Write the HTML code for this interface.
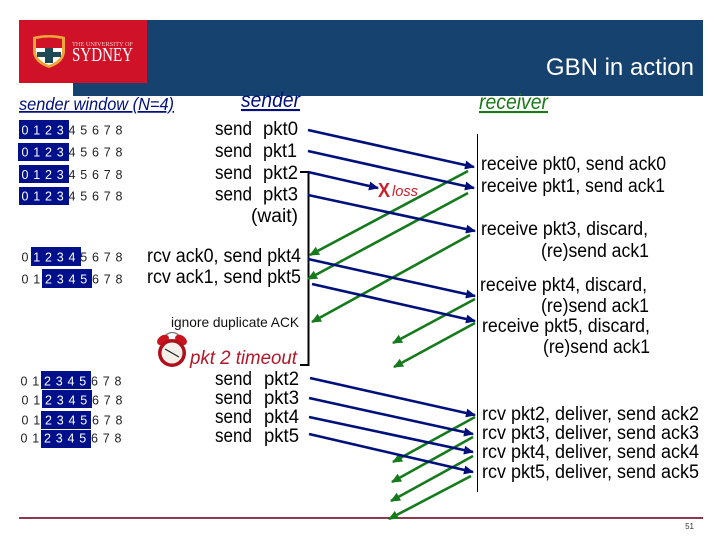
<!DOCTYPE html>
<html><head><meta charset="utf-8"><style>
html,body{margin:0;padding:0;background:#fff;width:720px;height:540px;overflow:hidden}
svg{display:block}
text{font-family:"Liberation Sans",sans-serif}
.t{font-size:19px;fill:#000}
.d{font-size:12.5px;letter-spacing:4.8px;fill:#222}
.d tspan{fill:#fff}
</style></head><body>
<svg width="720" height="540" viewBox="0 0 720 540" xmlns="http://www.w3.org/2000/svg">
<defs>
<marker id="b" markerUnits="userSpaceOnUse" markerWidth="11" markerHeight="10" refX="9" refY="4.5" orient="auto"><path d="M0 0L10 4.5L0 9z" fill="#00107a"/></marker>
<marker id="g" markerUnits="userSpaceOnUse" markerWidth="11" markerHeight="10" refX="9" refY="4.5" orient="auto"><path d="M0 0L10 4.5L0 9z" fill="#157a1c"/></marker>
</defs>
<rect x="73" y="20" width="630" height="76" fill="#15426f"/>
<rect x="19" y="20" width="128" height="63" fill="#cf1228"/>
<path d="M33 37Q49 33 65 37L65 52Q64 63 49 68Q34 63 33 52z" fill="#f0a53a"/>
<path d="M36 39Q49 36 62 39L62 48L36 48z" fill="#cf1228"/>
<path d="M36 48H62V53Q60 61 49 65Q38 61 36 53z" fill="#fff"/>
<rect x="45" y="48" width="8" height="15" fill="#1d4a55"/>
<rect x="37" y="52" width="24" height="5" fill="#1d4a55"/>
<text x="72" y="46" font-size="6" fill="#f2c9c9" textLength="61" lengthAdjust="spacingAndGlyphs" style="font-family:'Liberation Serif',serif">THE UNIVERSITY OF</text>
<text x="72" y="61" font-size="20" fill="#fff" textLength="61" lengthAdjust="spacingAndGlyphs" style="font-family:'Liberation Serif',serif">SYDNEY</text>
<text x="694" y="75" font-size="24" fill="#fff" text-anchor="end">GBN in action</text>

<text x="19" y="110" font-size="17.5" font-style="italic" fill="#00107a" text-decoration="underline" textLength="155" lengthAdjust="spacingAndGlyphs">sender window (N=4)</text>
<text x="241" y="107" font-size="21" font-style="italic" fill="#00107a" text-decoration="underline" textLength="59" lengthAdjust="spacingAndGlyphs">sender</text>
<text x="479" y="109" font-size="21" font-style="italic" fill="#1a7a1a" text-decoration="underline" textLength="69" lengthAdjust="spacingAndGlyphs">receiver</text>

<g fill="#000f8a">
<rect x="19" y="120" width="50" height="19"/><rect x="18" y="143" width="51" height="18"/><rect x="19" y="165" width="50" height="18"/><rect x="19" y="187" width="50" height="18"/>
<rect x="31" y="247" width="50" height="19"/><rect x="42" y="269" width="50" height="19"/>
<rect x="41" y="371" width="50" height="18"/><rect x="42" y="390" width="50" height="18"/><rect x="41" y="411" width="50" height="18"/><rect x="41" y="430" width="50" height="18"/>
</g>
<text class="d" x="21.5" y="134.5"><tspan>0123</tspan>45678</text>
<text class="d" x="21.5" y="156.5"><tspan>0123</tspan>45678</text>
<text class="d" x="21.5" y="179"><tspan>0123</tspan>45678</text>
<text class="d" x="21.5" y="200.5"><tspan>0123</tspan>45678</text>
<text class="d" x="21.5" y="261.5">0<tspan>1234</tspan>5678</text>
<text class="d" x="21.5" y="283.5">01<tspan>2345</tspan>678</text>
<text class="d" x="20.5" y="385.5">01<tspan>2345</tspan>678</text>
<text class="d" x="21.5" y="404.5">01<tspan>2345</tspan>678</text>
<text class="d" x="21.5" y="424.5">01<tspan>2345</tspan>678</text>
<text class="d" x="20.5" y="442.5">01<tspan>2345</tspan>678</text>

<g>
<text class="t" x="215" y="135" textLength="37" lengthAdjust="spacingAndGlyphs">send</text><text class="t" x="263" y="135" textLength="35" lengthAdjust="spacingAndGlyphs">pkt0</text>
<text class="t" x="215" y="157" textLength="37" lengthAdjust="spacingAndGlyphs">send</text><text class="t" x="263" y="157" textLength="34" lengthAdjust="spacingAndGlyphs">pkt1</text>
<text class="t" x="215" y="179" textLength="37" lengthAdjust="spacingAndGlyphs">send</text><text class="t" x="263" y="179" textLength="35" lengthAdjust="spacingAndGlyphs">pkt2</text>
<text class="t" x="215" y="200.5" textLength="37" lengthAdjust="spacingAndGlyphs">send</text><text class="t" x="263" y="200.5" textLength="35" lengthAdjust="spacingAndGlyphs">pkt3</text>
<text class="t" x="251" y="222" textLength="47" lengthAdjust="spacingAndGlyphs">(wait)</text>
<text class="t" x="147" y="262" textLength="154" lengthAdjust="spacingAndGlyphs">rcv ack0, send pkt4</text>
<text class="t" x="147" y="283" textLength="154" lengthAdjust="spacingAndGlyphs">rcv ack1, send pkt5</text>
<text x="171" y="327" font-size="14" fill="#111" textLength="128" lengthAdjust="spacingAndGlyphs">ignore duplicate ACK</text>
<text x="190" y="364" font-size="19" font-style="italic" fill="#b0182a" textLength="107" lengthAdjust="spacingAndGlyphs">pkt 2 timeout</text>
<text class="t" x="215" y="385" textLength="37" lengthAdjust="spacingAndGlyphs">send</text><text class="t" x="264" y="385" textLength="35" lengthAdjust="spacingAndGlyphs">pkt2</text>
<text class="t" x="215" y="404" textLength="37" lengthAdjust="spacingAndGlyphs">send</text><text class="t" x="264" y="404" textLength="35" lengthAdjust="spacingAndGlyphs">pkt3</text>
<text class="t" x="215" y="423" textLength="37" lengthAdjust="spacingAndGlyphs">send</text><text class="t" x="264" y="423" textLength="35" lengthAdjust="spacingAndGlyphs">pkt4</text>
<text class="t" x="215" y="442" textLength="37" lengthAdjust="spacingAndGlyphs">send</text><text class="t" x="264" y="442" textLength="35" lengthAdjust="spacingAndGlyphs">pkt5</text>

<text class="t" x="481" y="170" textLength="185" lengthAdjust="spacingAndGlyphs">receive pkt0, send ack0</text>
<text class="t" x="481" y="192" textLength="184" lengthAdjust="spacingAndGlyphs">receive pkt1, send ack1</text>
<text class="t" x="481" y="235" textLength="167" lengthAdjust="spacingAndGlyphs">receive pkt3, discard,</text>
<text class="t" x="541" y="257" textLength="108" lengthAdjust="spacingAndGlyphs">(re)send ack1</text>
<text class="t" x="480" y="291" textLength="167" lengthAdjust="spacingAndGlyphs">receive pkt4, discard,</text>
<text class="t" x="541" y="312" textLength="108" lengthAdjust="spacingAndGlyphs">(re)send ack1</text>
<text class="t" x="482" y="332" textLength="168" lengthAdjust="spacingAndGlyphs">receive pkt5, discard,</text>
<text class="t" x="543" y="353" textLength="107" lengthAdjust="spacingAndGlyphs">(re)send ack1</text>
<text class="t" x="482" y="420" textLength="217" lengthAdjust="spacingAndGlyphs">rcv pkt2, deliver, send ack2</text>
<text class="t" x="482" y="439" textLength="217" lengthAdjust="spacingAndGlyphs">rcv pkt3, deliver, send ack3</text>
<text class="t" x="482" y="458" textLength="217" lengthAdjust="spacingAndGlyphs">rcv pkt4, deliver, send ack4</text>
<text class="t" x="482" y="478" textLength="217" lengthAdjust="spacingAndGlyphs">rcv pkt5, deliver, send ack5</text>
</g>

<path d="M300 172H308.5V365H300" fill="none" stroke="#000" stroke-width="2"/>
<line x1="477.5" y1="134" x2="477.5" y2="492" stroke="#000" stroke-width="1"/>
<line x1="19" y1="518" x2="703" y2="518" stroke="#8a3a4a" stroke-width="2"/>
<text x="694" y="529" font-size="8" fill="#333" text-anchor="end">51</text>

<g stroke="#157a1c" stroke-width="2.6">
<line x1="468" y1="171" x2="310" y2="255" marker-end="url(#g)"/>
<line x1="468" y1="193" x2="308" y2="279" marker-end="url(#g)"/>
<line x1="470" y1="235" x2="312" y2="322" marker-end="url(#g)"/>
<line x1="475" y1="299" x2="393" y2="343" marker-end="url(#g)"/>
<line x1="475" y1="323" x2="394" y2="367" marker-end="url(#g)"/>
<line x1="475" y1="417" x2="393" y2="462" marker-end="url(#g)"/>
<line x1="473" y1="437" x2="392" y2="482" marker-end="url(#g)"/>
<line x1="473" y1="456" x2="391" y2="501" marker-end="url(#g)"/>
<line x1="471" y1="476" x2="389" y2="519" marker-end="url(#g)"/>
</g>
<g stroke="#00107a" stroke-width="2.6">
<line x1="308" y1="130" x2="474" y2="167" marker-end="url(#b)"/>
<line x1="308" y1="151" x2="474" y2="188" marker-end="url(#b)"/>
<line x1="308" y1="172" x2="378" y2="188" marker-end="url(#b)"/>
<line x1="308" y1="195" x2="475" y2="231" marker-end="url(#b)"/>
<line x1="308" y1="259" x2="475" y2="296" marker-end="url(#b)"/>
<line x1="312" y1="284" x2="475" y2="321" marker-end="url(#b)"/>
<line x1="310" y1="378" x2="475" y2="415" marker-end="url(#b)"/>
<line x1="309" y1="398" x2="473" y2="434" marker-end="url(#b)"/>
<line x1="309" y1="417" x2="473" y2="452" marker-end="url(#b)"/>
<line x1="309" y1="434" x2="473" y2="472" marker-end="url(#b)"/>
</g>

<text x="378" y="197" font-size="20" font-weight="bold" fill="#c8202c" textLength="12" lengthAdjust="spacingAndGlyphs">X</text>
<text x="392" y="196" font-size="15" font-style="italic" fill="#c8202c" textLength="26" lengthAdjust="spacingAndGlyphs">loss</text>

<g>
<path d="M164 337Q172 328 181 337" fill="none" stroke="#777" stroke-width="1.2"/>
<ellipse cx="163" cy="340" rx="6.5" ry="4.5" fill="#c8141e" transform="rotate(-35 163 340)"/>
<ellipse cx="181" cy="340" rx="6.5" ry="4.5" fill="#c8141e" transform="rotate(35 181 340)"/>
<circle cx="172" cy="353" r="14" fill="#b0101c"/>
<circle cx="172" cy="353" r="10.5" fill="#f4efe8"/>
<path d="M172 353L165 349M172 353L179 357" stroke="#222" stroke-width="1.2"/>
</g>
</svg>
</body></html>
